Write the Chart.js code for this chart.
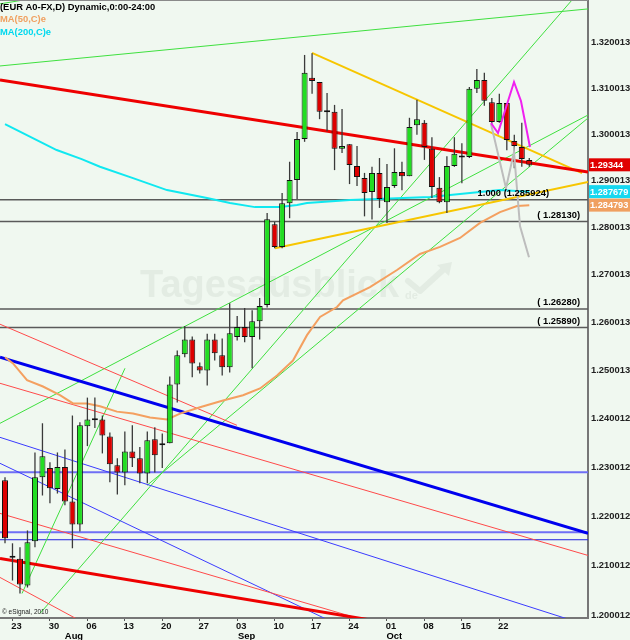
<!DOCTYPE html>
<html>
<head>
<meta charset="utf-8">
<script src="https://cdn.jsdelivr.net/npm/chart.js@4"></script>
<style>
  html, body { margin: 0; padding: 0; background: #f0f8f0; }
  canvas { display: block; }
</style>
</head>
<body>
<canvas id="chart" width="630" height="640"></canvas>
<script>
// === EUR/USD Tageskerzen 20.07. - 26.10. (Index 0 = 20.07.)
const opens = [1.2273,1.2118,1.2114,1.2060,1.2149,1.2279,1.2298,1.2255,1.2300,1.2230,
  1.2183,1.2384,1.2398,1.2398,1.2363,1.2304,1.2289,1.2332,1.2318,1.2287,
  1.2357,1.2347,1.2349,1.2470,1.2533,1.2564,1.2508,1.2499,1.2564,1.2531,
  1.2506,1.2569,1.2590,1.2569,1.2602,1.2636,1.2807,1.2759,1.2852,1.2902,
  1.2990,1.3123,1.3114,1.3050,1.3049,1.2969,1.2979,1.2932,1.2906,1.2876,
  1.2917,1.2854,1.2889,1.2919,1.2910,1.3020,1.3025,1.2969,1.2885,1.2854,
  1.2932,1.2952,1.2951,1.3099,1.3118,1.3070,1.3027,1.3068,1.2986,1.2973,
  1.2945];
const highs = [1.2279,1.2145,1.2137,1.2171,1.2330,1.2390,1.2310,1.2330,1.2336,1.2406,
  1.2392,1.2443,1.2443,1.2406,1.2371,1.2318,1.2373,1.2386,1.2341,1.2373,
  1.2382,1.2369,1.2487,1.2541,1.2592,1.2570,1.2516,1.2576,1.2576,1.2566,
  1.2640,1.2613,1.2630,1.2625,1.2651,1.2831,1.2812,1.2874,1.2941,1.3005,
  1.3173,1.3177,1.3114,1.3090,1.3064,1.3055,1.2979,1.2975,1.2917,1.2930,
  1.2949,1.2936,1.2970,1.2941,1.3036,1.3075,1.3031,1.2994,1.2908,1.2953,
  1.2994,1.2981,1.3103,1.3142,1.3134,1.3079,1.3088,1.3068,1.2999,1.3025,
  1.2949];
const lows = [1.2145,1.2070,1.2044,1.2056,1.2137,1.2242,1.2226,1.2246,1.2222,1.2135,
  1.2169,1.2343,1.2380,1.2328,1.2269,1.2244,1.2263,1.2300,1.2267,1.2267,
  1.2289,1.2298,1.2349,1.2433,1.2527,1.2485,1.2493,1.2468,1.2520,1.2489,
  1.2495,1.2562,1.2558,1.2504,1.2564,1.2631,1.2756,1.2756,1.2820,1.2861,
  1.2984,1.3088,1.3033,1.3007,1.2923,1.2960,1.2893,1.2889,1.2824,1.2817,
  1.2842,1.2810,1.2885,1.2880,1.2910,1.2999,1.2945,1.2863,1.2852,1.2831,
  1.2930,1.2895,1.2949,1.3090,1.3062,1.3023,1.3025,1.2966,1.2927,1.2930,
  1.2930];
const closes = [1.2155,1.2116,1.2062,1.2147,1.2279,1.2322,1.2257,1.2300,1.2230,1.2183,
  1.2386,1.2398,1.2396,1.2365,1.2306,1.2289,1.2332,1.2318,1.2287,1.2355,
  1.2324,1.2345,1.2470,1.2531,1.2564,1.2514,1.2499,1.2564,1.2535,1.2506,
  1.2577,1.2590,1.2569,1.2602,1.2634,1.2818,1.2759,1.2852,1.2902,1.2990,
  1.3134,1.3116,1.3049,1.3048,1.2969,1.2975,1.2934,1.2908,1.2874,1.2917,
  1.2861,1.2887,1.2919,1.2910,1.3016,1.3033,1.2973,1.2887,1.2854,1.2932,
  1.2958,1.2950,1.3099,1.3118,1.3073,1.3027,1.3068,1.2988,1.2975,1.2947,
  1.29344];

// === Gleitende Durchschnitte [index, kurs]
const ma50 = [[0,1.2527],[1.07,1.2514],[2.94,1.2479],[5.07,1.2466],[7.34,1.2448],[9.08,1.2431],
  [10.95,1.2431],[12.68,1.2425],[14.95,1.2414],[17.09,1.2410],[19.36,1.2402],[21.63,1.2398],
  [23.37,1.2410],[26.03,1.2423],[29.11,1.2437],[31.78,1.2448],[34.05,1.2462],[36.32,1.2489],
  [38.45,1.2520],[40.32,1.2573],[42.06,1.2611],[44.33,1.2632],[45.13,1.2646],[48.73,1.2674],
  [52.34,1.2710],[55.41,1.2744],[58.08,1.2759],[60.75,1.2778],[63.42,1.2810],[66.09,1.2833],
  [68.36,1.2846],[70,1.284793]];
const ma200 = [[0,1.30225],[6.9,1.29662],[10.24,1.29468],[12.68,1.29302],[17.09,1.29059],
  [21.63,1.28801],[26.97,1.28630],[30.04,1.28523],[33.38,1.28437],[36.72,1.28437],
  [38.99,1.28480],[40.32,1.28523],[46.06,1.28587],[56.74,1.28651],[62.08,1.28737],
  [66.09,1.28801],[70,1.287679]];

// === Trendlinien [index, kurs]
const redThickLines = [
  [[-0.668,1.31183],[77.84,1.29188]],
  [[-0.668,1.21144],[52.74,1.19812]]
];
const redThinLines = [
  [[-0.668,1.25959],[30.97,1.23858]],
  [[-0.668,1.24727],[77.84,1.21205]],
  [[-0.668,1.22056],[52.74,1.19697]],
  [[-0.668,1.20762],[11.35,1.19788]]
];
const blueThickLines = [[[-0.668,1.25268],[77.84,1.21650]]];
const blueThinLines = [
  [[-0.668,1.23610],[79.44,1.19724]],
  [[-0.668,1.23077],[47.4,1.19607]]
];
const blueLevels = [1.22892, 1.21676, 1.21522];
const greenLines = [
  [[-0.668,1.31489],[77.84,1.32743]],
  [[-0.668,1.23899],[77.84,1.30420]],
  [[2.27,1.20440],[16.02,1.25039]],
  [[4.67,1.20040],[76.1,1.33015]],
  [[18.96,1.22626],[77.84,1.30355]],
  [[-0.668,1.32854],[3.34,1.32964]]
];
const yellowLines = [
  [[40.99,1.31774],[77.04,1.29166]],
  [[36.05,1.27563],[77.84,1.28973]]
];
const magentaPath = [[64.89,1.30247],[65.82,1.30030],[67.96,1.31139],[68.89,1.30725],[70.09,1.29727]];
const grayPath = [[64.89,1.30225],[66.89,1.28844],[67.96,1.29619],[68.76,1.28032],[69.96,1.27372]];
const grayLevels = [1.285924, 1.28130, 1.26280, 1.25890];
const levelLabels = ["1.000 (1.285924)", "( 1.28130)", "( 1.26280)", "( 1.25890)"];

// === Achsen
const xMin = -0.668, xMax = 77.84;
const yMin = 1.1995, yMax = 1.3294;
const xTickIdx = [1, 6, 11, 16, 21, 26, 31, 36, 41, 46, 51, 56, 61, 66];
const xTickLabels = ["23","30","06","13","20","27","03","10","17","24","01","08","15","22"];
const monthIdx = [9.21, 32.27, 51.98];
const monthLabels = ["Aug", "Sep", "Oct"];
const yTicks = [1.200012,1.210012,1.220012,1.230012,1.240012,1.250013,1.260013,
  1.270013,1.280013,1.290013,1.300013,1.310013,1.320013];
const lastValues = [1.29344, 1.287679, 1.284793];

const FONT = "'Liberation Sans', Arial, sans-serif";

function lineSet(points, color, width, order) {
  return {
    type: "line",
    data: points.map(([x, y]) => ({ x, y })),
    borderColor: color,
    borderWidth: width,
    pointRadius: 0,
    tension: 0,
    fill: false,
    order: order,
  };
}

const datasets = [];
redThinLines.forEach((l) => datasets.push(lineSet(l, "#ff4a4a", 1, 10)));
blueThinLines.forEach((l) => datasets.push(lineSet(l, "#3b3bff", 1, 10)));
greenLines.forEach((l) => datasets.push(lineSet(l, "#3fe03f", 1, 10)));
blueLevels.forEach((v, i) =>
  datasets.push(lineSet([[-1, v], [80, v]], i == 2 ? "#2222dd" : "#6f6ff5", i == 2 ? 1 : 2, 10))
);
grayLevels.forEach((v) => datasets.push(lineSet([[-1, v], [80, v]], "#5a5a5a", 1.5, 10)));
redThickLines.forEach((l) => datasets.push(lineSet(l, "#ee0000", 3, 9)));
blueThickLines.forEach((l) => datasets.push(lineSet(l, "#0000ee", 3, 9)));
yellowLines.forEach((l) => datasets.push(lineSet(l, "#f7c600", 2, 9)));
datasets.push(lineSet(ma50, "#f4a060", 2, 8));
datasets.push(lineSet(ma200, "#10e8f0", 2, 8));

// Kerzen: Docht + Körper als schwebende Balken
datasets.push({
  type: "bar",
  data: lows.map((l, i) => ({ x: i, y: [l, highs[i]] })),
  backgroundColor: "#3a3a3a",
  borderWidth: 0,
  grouped: false,
  barPercentage: 1,
  categoryPercentage: 1,
  maxBarThickness: 1.3,
  inflateAmount: 0,
  order: 3,
});
datasets.push({
  type: "bar",
  data: opens.map((o, i) => ({ x: i, y: [Math.min(o, closes[i]), Math.max(o, closes[i])] })),
  backgroundColor: opens.map((o, i) =>
    Math.abs(closes[i] - o) < 0.0003 ? "#000" : closes[i] > o ? "#22dd22" : "#dd0000"
  ),
  borderColor: "#111",
  borderWidth: 1,
  borderSkipped: false,
  grouped: false,
  barPercentage: 1,
  categoryPercentage: 1,
  maxBarThickness: 6,
  minBarLength: 2,
  inflateAmount: 0,
  order: 2,
});
datasets.push(lineSet(magentaPath, "#f020f0", 2, 1));
datasets.push(lineSet(grayPath, "#bdbdbd", 2, 1));

// === Hintergrund, Wasserzeichen und Beschriftungen
const decoPlugin = {
  id: "deco",
  beforeDraw(chart) {
    const c = chart.ctx;
    c.save();
    c.fillStyle = "#f0f8f0";
    c.fillRect(0, 0, chart.width, chart.height);
    c.restore();
  },
  beforeDatasetsDraw(chart) {
    const c = chart.ctx;
    c.save();
    c.fillStyle = "#e3ece3";
    c.strokeStyle = "#e3ece3";
    c.font = "bold 38px " + FONT;
    c.textBaseline = "alphabetic";
    c.fillText("Tagesausblick", 140, 297);
    c.font = "bold 11px " + FONT;
    c.fillText("de", 405, 299);
    c.lineWidth = 6;
    c.lineJoin = "round";
    c.lineCap = "round";
    c.beginPath();
    c.moveTo(408, 281);
    c.lineTo(420, 291);
    c.lineTo(443, 270);
    c.stroke();
    c.beginPath();
    c.moveTo(452, 262);
    c.lineTo(437, 265);
    c.lineTo(449, 276);
    c.closePath();
    c.fill();
    c.restore();
  },
  afterDraw(chart) {
    const c = chart.ctx;
    const xs = chart.scales.x;
    const ys = chart.scales.y;
    const area = chart.chartArea;
    c.save();
    c.strokeStyle = "#8a8a8a";
    c.lineWidth = 1;
    c.beginPath();
    c.moveTo(0, 0.5);
    c.lineTo(area.right, 0.5);
    c.stroke();

    c.font = "bold 9.4px " + FONT;
    c.textBaseline = "middle";
    c.textAlign = "left";
    c.fillStyle = "#000";
    c.fillText("(EUR A0-FX,D) Dynamic,0:00-24:00", 0, 7);
    c.fillStyle = "#f0a060";
    c.fillText("MA(50,C)e", 0, 19.5);
    c.fillStyle = "#00d8ee";
    c.fillText("MA(200,C)e", 0, 32);

    // Level-Beschriftungen
    c.fillStyle = "#000";
    c.textAlign = "right";
    grayLevels.forEach((v, i) => {
      const y = ys.getPixelForValue(v) - 6.5;
      c.fillText(levelLabels[i], i == 0 ? 549 : 580, y);
    });

    // Monate
    c.textAlign = "center";
    monthLabels.forEach((m, i) => {
      c.fillText(m, xs.getPixelForValue(monthIdx[i]), 636);
    });

    // Kurskästchen rechts
    const boxColors = ["#e00000", "#16d8f0", "#f0a060"];
    const boxText = ["1.29344", "1.287679", "1.284793"];
    c.textAlign = "left";
    c.font = "bold 9.2px " + FONT;
    lastValues.forEach((v, i) => {
      const y = ys.getPixelForValue(v);
      c.fillStyle = boxColors[i];
      c.fillRect(area.right + 1, y - 6.5, chart.width - area.right - 1, 13);
      c.fillStyle = "#fff";
      c.fillText(boxText[i], area.right + 2, y + 0.5);
    });

    c.fillStyle = "#222";
    c.font = "6.5px " + FONT;
    c.fillText("\u00a9 eSignal, 2010", 2, 612);
    c.restore();
  },
};

new Chart(document.getElementById("chart"), {
  type: "line",
  data: { datasets: datasets },
  plugins: [decoPlugin],
  options: {
    responsive: false,
    animation: false,
    events: [],
    layout: { padding: 0 },
    plugins: { legend: { display: false }, tooltip: { enabled: false } },
    scales: {
      x: {
        type: "linear",
        min: xMin,
        max: xMax,
        offset: false,
        afterBuildTicks: (s) => {
          s.ticks = xTickIdx.map((v) => ({ value: v }));
        },
        afterFit: (s) => {
          s.height = 22;
          s.paddingLeft = 0;
          s.paddingRight = 0;
        },
        ticks: {
          callback: (v, i) => xTickLabels[i],
          autoSkip: false,
          maxRotation: 0,
          padding: 0,
          labelOffset: 4,
          color: "#111",
          font: { family: FONT, size: 9.4, weight: "bold" },
        },
        grid: { drawOnChartArea: false, drawTicks: true, tickLength: 3, color: "#555", offset: false },
        border: { color: "#777", width: 2 },
      },
      y: {
        type: "logarithmic",
        position: "right",
        min: yMin,
        max: yMax,
        afterBuildTicks: (s) => {
          s.ticks = yTicks.map((v) => ({ value: v }));
        },
        afterFit: (s) => {
          s.width = 42;
          s.paddingTop = 0;
          s.paddingBottom = 0;
        },
        ticks: {
          callback: (v) => Number(v).toFixed(6),
          autoSkip: false,
          padding: 3,
          color: "#222",
          font: { family: FONT, size: 9.4, weight: "bold" },
        },
        grid: { drawOnChartArea: false, drawTicks: false },
        border: { color: "#777", width: 2 },
      },
    },
  },
});
</script>
</body>
</html>
